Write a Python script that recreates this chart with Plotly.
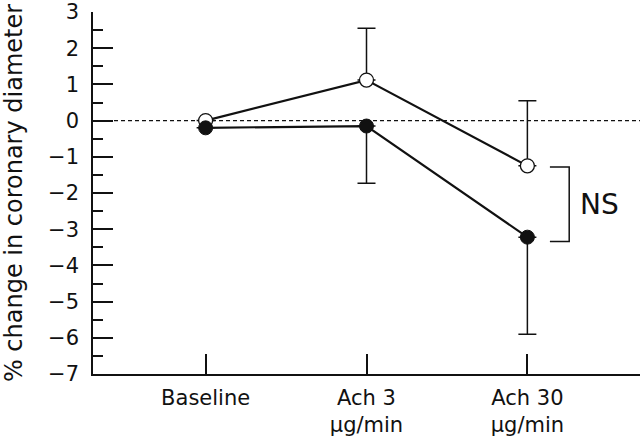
import plotly.graph_objects as go

# ---------------------------------------------------------------------------
# Data
# ---------------------------------------------------------------------------
categories = ["Baseline", "Ach 3<br>µg/min", "Ach 30<br>µg/min"]
x_pos = [0, 1, 2]

open_vals = [0.0, 1.12, -1.25]
open_err_up = [0.0, 1.43, 1.8]

filled_vals = [-0.2, -0.15, -3.22]
filled_err_down = [0.0, 1.58, 2.68]

ns_label = "NS"

FONT = "DejaVu Sans"
BLACK = "#111111"

fig = go.Figure()

# Open-circle series (drawn first, sits underneath)
fig.add_trace(
    go.Scatter(
        x=x_pos,
        y=open_vals,
        mode="lines+markers",
        line=dict(color=BLACK, width=2.2),
        marker=dict(size=14, color="white", line=dict(color=BLACK, width=1.3)),
        error_y=dict(
            type="data",
            symmetric=False,
            array=open_err_up,
            arrayminus=[0] * len(open_vals),
            color=BLACK,
            thickness=1.5,
            width=9,
        ),
        showlegend=False,
        hoverinfo="skip",
    )
)

# Filled-circle series
fig.add_trace(
    go.Scatter(
        x=x_pos,
        y=filled_vals,
        mode="lines+markers",
        line=dict(color=BLACK, width=2.2),
        marker=dict(size=14, color=BLACK, line=dict(color=BLACK, width=1)),
        error_y=dict(
            type="data",
            symmetric=False,
            array=[0] * len(filled_vals),
            arrayminus=filled_err_down,
            color=BLACK,
            thickness=1.5,
            width=9,
        ),
        showlegend=False,
        hoverinfo="skip",
    )
)

# Zero reference line
fig.add_shape(
    type="line",
    xref="paper",
    yref="y",
    x0=0,
    x1=1,
    y0=0,
    y1=0,
    line=dict(color=BLACK, width=1.3, dash="4px,3px"),
    layer="below",
)

# NS bracket between the two Ach 30 means
bx0, bx1 = 2.14, 2.26
by_top = open_vals[2] - 0.03
by_bot = filled_vals[2] - 0.12
fig.add_trace(
    go.Scatter(
        x=[bx0, bx1, bx1, bx0],
        y=[by_top, by_top, by_bot, by_bot],
        mode="lines",
        line=dict(color=BLACK, width=1.5),
        showlegend=False,
        hoverinfo="skip",
    )
)
fig.add_annotation(
    x=2.45,
    y=(by_top + by_bot) / 2,
    text=ns_label,
    showarrow=False,
    font=dict(family=FONT, size=28, color=BLACK),
)

fig.update_layout(
    width=640,
    height=440,
    margin=dict(l=93, r=0, t=12, b=66),
    paper_bgcolor="white",
    plot_bgcolor="white",
    font=dict(family=FONT, size=21, color=BLACK),
    xaxis=dict(
        range=[-0.7, 2.7],
        tickmode="array",
        tickvals=x_pos,
        ticktext=categories,
        ticks="inside",
        ticklen=20,
        tickwidth=1.5,
        tickcolor=BLACK,
        showline=True,
        linecolor=BLACK,
        linewidth=1.5,
        showgrid=False,
        zeroline=False,
        ticklabelstandoff=4,
        automargin=False,
    ),
    yaxis=dict(
        range=[-7, 3],
        tickmode="linear",
        tick0=-7,
        dtick=1,
        ticks="inside",
        ticklen=20,
        tickwidth=1.5,
        tickcolor=BLACK,
        minor=dict(dtick=0.5, ticks="inside", ticklen=10, tickwidth=1.5, tickcolor=BLACK),
        showline=True,
        linecolor=BLACK,
        linewidth=1.5,
        showgrid=False,
        zeroline=False,
        ticklabelstandoff=8,
        ticklabeloverflow="allow",
        automargin=False,
        title=dict(
            text="% change in coronary diameter",
            font=dict(family=FONT, size=24, color=BLACK),
            standoff=32,
        ),
    ),
)

# drop the default page margin so the 640x440 figure fills the window
fig.write_html(
    "out.html",
    config={"displayModeBar": False},
    post_script="document.body.style.margin = '0';",
)
